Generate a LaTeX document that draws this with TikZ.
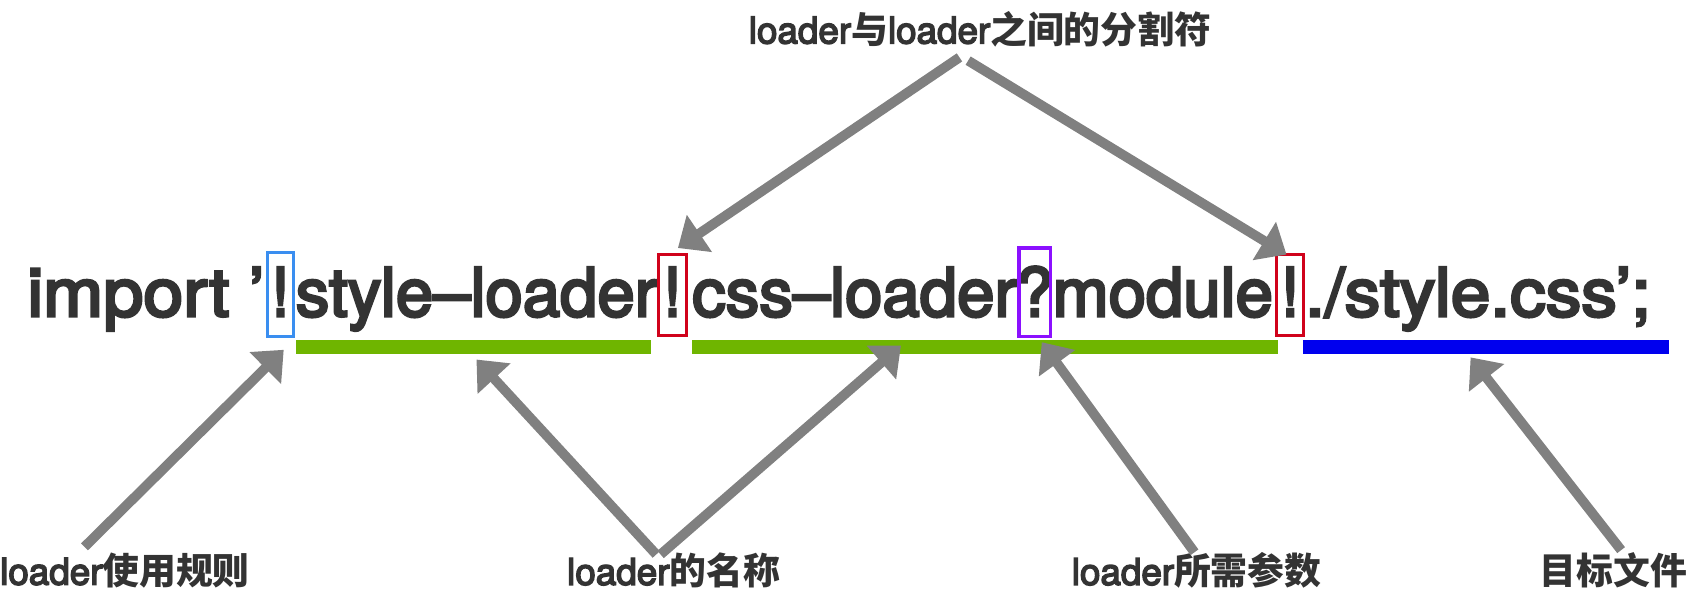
\documentclass[tikz,border=0pt]{standalone}
\usepackage{fontspec}
\setmainfont{TeX Gyre Heros}
\newfontfamily\codefont{TeX Gyre Heros}[FakeBold=4]
\newfontfamily\cjk{Noto Sans CJK SC}
\usetikzlibrary{arrows.meta}
\definecolor{txt}{HTML}{333333}
\definecolor{arrowgray}{HTML}{808080}
\definecolor{boxblue}{HTML}{3A8EF0}
\definecolor{boxred}{HTML}{D0021B}
\definecolor{boxpurple}{HTML}{8B10FF}
\definecolor{bargreen}{HTML}{6FB500}
\definecolor{barblue}{HTML}{0000EE}
\newcommand\lw[1]{{\codefont #1}}
\newcommand\cw[1]{{\cjk\bfseries #1}}
\begin{document}
\begin{tikzpicture}[x=1pt,y=-1pt,
  code/.style={inner sep=0pt, anchor=base west, text=txt, font=\codefont\fontsize{62}{62}\selectfont},
  sepbox/.style={inner sep=0pt, line width=3pt},
  lbl/.style={inner sep=0pt, text=txt, font=\fontsize{34}{34}\selectfont},
  pointer/.style={draw=arrowgray, line width=9pt, -{Triangle[length=24pt,width=40pt]}},
  bar/.style={inner sep=0pt, minimum height=13pt}
]
\useasboundingbox (0,0) rectangle (1568,550);
% code text
\node[code] (c0) at (25,292) {\scalebox{1.07}[1]{import}};
\node[code] (c1) at (230,292) {’};
\node[code, anchor=base] (e1) at (259,292) {!};
\node[code] (c2) at (273,292) {style–loader};
\node[code, anchor=base] (e2) at (621,292) {!};
\node[code] (c3) at (639,292) {css–loader};
\node[code, anchor=base] (q1) at (955.5,292) {?};
\node[code] (c4) at (972,292) {module};
\node[code, anchor=base] (e3) at (1191.5,292) {!};
\node[code] (c5) at (1205,292) {\scalebox{1.06}[1]{./style.css’;}};
% boxes
\node[sepbox, draw=boxblue, minimum width=24pt, minimum height=78pt] (b1) at (259,272) {};
\node[sepbox, draw=boxred, minimum width=26pt, minimum height=75pt] (b2) at (621,272.5) {};
\node[sepbox, draw=boxpurple, minimum width=29pt, minimum height=82pt] (b3) at (955.5,270) {};
\node[sepbox, draw=boxred, minimum width=25pt, minimum height=75pt] (b4) at (1191.5,272.5) {};
% bars
\node[bar, fill=bargreen, minimum width=328pt] (g1) at (437,320.5) {};
\node[bar, fill=bargreen, minimum width=541pt] (g2) at (909.5,320.5) {};
\node[bar, fill=barblue, minimum width=338pt] (g3) at (1372,320.5) {};
% labels
\node[lbl] (top) at (905,27) {\lw{loader}\cw{与}\lw{loader}\cw{之间的分割符}};
\node[lbl, anchor=west] (l1) at (0,527) {\lw{loader}\cw{使用规则}};
\node[lbl] (l2) at (622,527) {\lw{loader}\cw{的名称}};
\node[lbl] (l3) at (1105,527) {\lw{loader}\cw{所需参数}};
\node[lbl] (l4) at (1490,527) {\cw{目标文件}};
% arrow end points
\coordinate (s1) at (78,505);   \coordinate (t1) at (262,323);
\coordinate (s2) at (606,512);  \coordinate (t2) at (440,332);
\coordinate (s3) at (610,512);  \coordinate (t3) at (832,319);
\coordinate (s4) at (1103,510); \coordinate (t4) at (962,316);
\coordinate (s5) at (1497,508); \coordinate (t5) at (1358,330);
\coordinate (s6) at (886,53);   \coordinate (t6) at (626,229);
\coordinate (s7) at (894,56);   \coordinate (t7) at (1188,235);
\draw[pointer] (s1) -- (t1);
\draw[pointer] (s2) -- (t2);
\draw[pointer] (s3) -- (t3);
\draw[pointer] (s4) -- (t4);
\draw[pointer] (s5) -- (t5);
\draw[pointer] (s6) -- (t6);
\draw[pointer] (s7) -- (t7);
\end{tikzpicture}
\end{document}
